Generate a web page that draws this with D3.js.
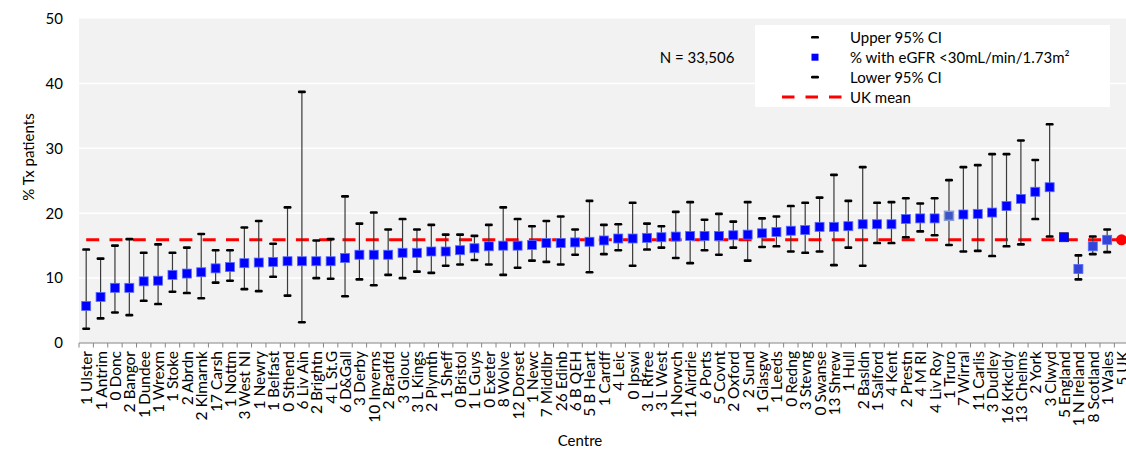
<!DOCTYPE html>
<html>
<head>
<meta charset="utf-8">
<script src="https://cdn.jsdelivr.net/npm/d3@7"></script>
<style>
  html, body { margin: 0; padding: 0; background: #ffffff; }
  svg { display: block; font-family: Lato, "Open Sans", sans-serif; }
</style>
</head>
<body>
<svg id="chart" width="1126" height="452"></svg>
<script>
// Centres, ordered by the percentage of transplant patients with eGFR < 30
const centres = [
  "1 Ulster", "1 Antrim", "0 Donc", "2 Bangor", "1 Dundee", "1 Wrexm", "1 Stoke", "2 Abrdn",
  "2 Klmarnk", "17 Carsh", "1 Nottm", "3 West NI", "1 Newry", "1 Belfast", "0 Sthend", "6 Liv Ain",
  "2 Brightn", "4 L St.G", "6 D&Gall", "3 Derby", "10 Inverns", "2 Bradfd", "3 Glouc", "3 L Kings",
  "2 Plymth", "1 Sheff", "0 Bristol", "1 L Guys", "0 Exeter", "8 Wolve", "12 Dorset", "1 Newc",
  "7 Middlbr", "26 Edinb", "6 B QEH", "5 B Heart", "1 Cardff", "4 Leic", "0 Ipswi", "3 L Rfree",
  "3 L West", "1 Norwch", "11 Airdrie", "6 Ports", "5 Covnt", "2 Oxford", "2 Sund", "1 Glasgw",
  "1 Leeds", "0 Redng", "3 Stevng", "0 Swanse", "13 Shrew", "1 Hull", "2 Basldn", "1 Salford",
  "4 Kent", "2 Prestn", "4 M RI", "4 Liv Roy", "1 Truro", "7 Wirral", "11 Carlis", "3 Dudley",
  "16 Krkcldy", "13 Chelms", "2 York", "3 Clwyd", "5 England", "1 N Ireland", "8 Scotland", "1 Wales",
  "5 UK"
];

// % with eGFR <30mL/min/1.73m²
const pct = [
  5.7, 7.1, 8.5, 8.5, 9.5, 9.6, 10.5, 10.7,
  10.9, 11.5, 11.7, 12.3, 12.4, 12.5, 12.6, 12.6,
  12.6, 12.6, 13.1, 13.6, 13.6, 13.6, 13.9, 13.9,
  14.1, 14.1, 14.3, 14.6, 14.9, 15.0, 15.0, 15.1,
  15.4, 15.4, 15.5, 15.6, 15.8, 16.1, 16.1, 16.2,
  16.3, 16.4, 16.5, 16.5, 16.5, 16.6, 16.7, 16.9,
  17.1, 17.3, 17.4, 17.9, 17.9, 18.0, 18.3, 18.3,
  18.3, 19.1, 19.2, 19.2, 19.6, 19.8, 19.9, 20.1,
  21.1, 22.2, 23.3, 24.0, 16.3, 11.4, 14.9, 15.9,
  15.9
];

// Upper 95% CI
const upper = [
  14.4, 13.0, 15.0, 16.0, 13.9, 15.2, 13.9, 14.7,
  16.8, 14.3, 14.3, 17.8, 18.8, 15.3, 20.9, 38.7,
  15.8, 16.0, 22.6, 18.4, 20.1, 17.5, 19.1, 17.5,
  18.2, 16.7, 16.7, 16.5, 18.2, 20.9, 19.1, 18.0,
  18.8, 19.5, 17.5, 21.9, 18.2, 18.3, 21.6, 18.4,
  18.0, 20.2, 21.7, 19.0, 19.9, 18.7, 21.7, 19.2,
  19.5, 21.1, 21.6, 22.4, 25.9, 21.9, 27.1, 21.6,
  21.7, 22.3, 21.5, 22.3, 25.1, 27.1, 27.4, 29.1,
  29.1, 31.2, 28.2, 33.7, 16.6, 13.5, 16.4, 17.5,
  15.9
];

// Lower 95% CI
const lower = [
  2.2, 3.8, 4.7, 4.3, 6.5, 6.0, 7.9, 7.7,
  6.9, 9.3, 9.6, 8.3, 8.0, 10.2, 7.3, 3.2,
  10.0, 9.9, 7.2, 9.8, 8.9, 10.5, 10.0, 11.0,
  10.8, 11.9, 12.1, 12.8, 12.1, 10.5, 11.6, 12.7,
  12.5, 12.1, 13.6, 10.9, 13.7, 14.3, 11.9, 14.4,
  14.7, 13.1, 12.3, 14.3, 13.6, 14.7, 12.7, 14.8,
  14.9, 14.1, 13.9, 14.1, 12.0, 14.7, 11.9, 15.4,
  15.4, 16.3, 17.2, 16.6, 15.1, 14.1, 14.2, 13.4,
  14.9, 15.2, 19.1, 16.4, 15.9, 9.8, 13.7, 14.0,
  15.9
];

const ukMean = 15.9;
const nTotal = "N = 33,506";
const yTicks = [0, 10, 20, 30, 40, 50];
const gridValues = [10, 20, 30, 40];

// Aggregate rows get their own marker treatment
const nationRows = ["1 N Ireland", "8 Scotland", "1 Wales"];
const englandRow = "5 England";
const ukRow = "5 UK";
const fadedRow = "1 Truro";

const svg = d3.select("#chart");
const W = 1126, H = 452;
const plotLeft = 79, plotTop = 18.5, plotBottom = 343;
const step = 14.38;

const x = d3.scaleBand()
  .domain(centres)
  .range([plotLeft, plotLeft + step * centres.length])
  .paddingInner(0)
  .paddingOuter(0);

const y = d3.scaleLinear().domain([0, 50]).range([plotBottom, plotTop]);
const cx = d => x(d) + x.bandwidth() / 2;

// Plot area background
svg.append("rect")
  .attr("x", plotLeft).attr("y", plotTop)
  .attr("width", W - plotLeft).attr("height", plotBottom - plotTop)
  .attr("fill", "#f2f2f2");

// Horizontal gridlines
svg.append("g").selectAll("line")
  .data(gridValues)
  .join("line")
  .attr("x1", plotLeft).attr("x2", W)
  .attr("y1", d => y(d)).attr("y2", d => y(d))
  .attr("stroke", "#ffffff").attr("stroke-width", 1.5);

// Y axis labels
const yAxis = svg.append("g")
  .attr("transform", `translate(${plotLeft},0)`)
  .call(d3.axisLeft(y).tickValues(yTicks).tickSize(0).tickPadding(16));
yAxis.select(".domain").remove();
yAxis.selectAll("text")
  .attr("font-family", "Lato, sans-serif")
  .attr("font-size", 15)
  .attr("fill", "#000");

// Y axis title
svg.append("text")
  .attr("transform", `translate(28,157) rotate(-90)`)
  .attr("text-anchor", "middle")
  .attr("dominant-baseline", "central")
  .attr("font-size", 15)
  .attr("fill", "#000")
  .text("% Tx patients");

// X axis: baseline with ticks between categories
const xAxisG = svg.append("g");
xAxisG.append("line")
  .attr("x1", plotLeft).attr("x2", W)
  .attr("y1", plotBottom).attr("y2", plotBottom)
  .attr("stroke", "#868686").attr("stroke-width", 1);
xAxisG.selectAll("line.tick")
  .data(centres)
  .join("line")
  .attr("class", "tick")
  .attr("x1", d => x(d)).attr("x2", d => x(d))
  .attr("y1", plotBottom).attr("y2", plotBottom + 4.5)
  .attr("stroke", "#868686").attr("stroke-width", 1);
xAxisG.selectAll("text")
  .data(centres)
  .join("text")
  .attr("transform", d => `translate(${cx(d)},${plotBottom + 8}) rotate(-90)`)
  .attr("text-anchor", "end")
  .attr("dominant-baseline", "central")
  .attr("font-size", 15.5)
  .attr("fill", "#000")
  .text(d => d);

// X axis title
svg.append("text")
  .attr("x", 580).attr("y", 440)
  .attr("text-anchor", "middle")
  .attr("dominant-baseline", "central")
  .attr("font-size", 15)
  .attr("fill", "#000")
  .text("Centre");

// UK mean dashed line
const meanLine = d3.line().x(d => cx(d)).y(() => y(ukMean));
svg.append("path")
  .attr("d", meanLine(centres))
  .attr("fill", "none")
  .attr("stroke", "#ff0000")
  .attr("stroke-width", 3)
  .attr("stroke-dasharray", "13,10.3");

// Confidence interval whiskers
const rows = centres.map((c, i) => ({ c, v: pct[i], hi: upper[i], lo: lower[i] }))
  .filter(r => r.c !== ukRow);

svg.append("g").selectAll("line")
  .data(rows)
  .join("line")
  .attr("x1", d => cx(d.c)).attr("x2", d => cx(d.c))
  .attr("y1", d => y(d.hi)).attr("y2", d => y(d.lo))
  .attr("stroke", "#3a3a3a").attr("stroke-width", 1.2);

const capW = 8, capH = 2.6;
const caps = rows.flatMap(d => [{ c: d.c, v: d.hi }, { c: d.c, v: d.lo }]);
svg.append("g").selectAll("rect")
  .data(caps)
  .join("rect")
  .attr("x", d => cx(d.c) - capW / 2)
  .attr("y", d => y(d.v) - capH / 2)
  .attr("width", capW).attr("height", capH)
  .attr("rx", 1.2)
  .attr("fill", "#000");

// Percentage markers
const sq = 9;
svg.append("g").selectAll("rect")
  .data(rows)
  .join("rect")
  .attr("x", d => cx(d.c) - sq / 2)
  .attr("y", d => y(d.v) - sq / 2)
  .attr("width", sq).attr("height", sq)
  .attr("fill", d => d.c === fadedRow ? "#3d55c6"
    : nationRows.includes(d.c) ? "#3344d8"
    : "#0000ff")
  .attr("stroke", d => d.c === fadedRow ? "#8aa0d4"
    : d.c === englandRow ? "#1a1a66"
    : "#5a6bff")
  .attr("stroke-width", d => d.c === fadedRow ? 1.5 : 0.8);

// UK overall as a red dot
svg.append("circle")
  .attr("cx", cx(ukRow))
  .attr("cy", y(pct[centres.indexOf(ukRow)]))
  .attr("r", 5.5)
  .attr("fill", "#ff0000");

// Total patients annotation
svg.append("text")
  .attr("x", 697).attr("y", 57)
  .attr("text-anchor", "middle")
  .attr("dominant-baseline", "central")
  .attr("font-size", 15)
  .attr("fill", "#000")
  .text(nTotal);

// Legend
const lg = svg.append("g");
lg.append("rect")
  .attr("x", 755).attr("y", 25)
  .attr("width", 355).attr("height", 82)
  .attr("fill", "#ffffff");

const legendItems = [
  { label: "Upper 95% CI", kind: "cap" },
  { label: "% with eGFR <30mL/min/1.73m²", kind: "square" },
  { label: "Lower 95% CI", kind: "cap" },
  { label: "UK mean", kind: "dash" }
];
const lgX = 850, lgSym = 815, lgY0 = 37.3, lgDy = 19.9;
legendItems.forEach((it, i) => {
  const yy = lgY0 + i * lgDy;
  if (it.kind === "cap") {
    lg.append("rect")
      .attr("x", lgSym - 4).attr("y", yy - 1.3)
      .attr("width", 8).attr("height", 2.6).attr("rx", 1.2)
      .attr("fill", "#000");
  } else if (it.kind === "square") {
    lg.append("rect")
      .attr("x", lgSym - 3.5).attr("y", yy - 3.5)
      .attr("width", 7).attr("height", 7)
      .attr("fill", "#0000ff");
  } else {
    lg.append("line")
      .attr("x1", 782).attr("x2", 842)
      .attr("y1", yy).attr("y2", yy)
      .attr("stroke", "#ff0000").attr("stroke-width", 3)
      .attr("stroke-dasharray", "12.5,11");
  }
  lg.append("text")
    .attr("x", lgX).attr("y", yy)
    .attr("dominant-baseline", "central")
    .attr("font-size", 15)
    .attr("fill", "#000")
    .text(it.label);
});
</script>
</body>
</html>
